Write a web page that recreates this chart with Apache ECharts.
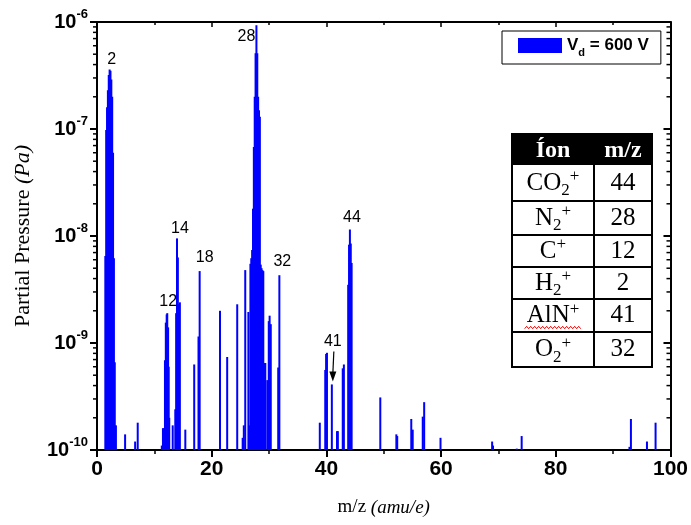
<!DOCTYPE html>
<html><head><meta charset="utf-8">
<script src="https://cdn.jsdelivr.net/npm/echarts@6/dist/echarts.min.js"></script>
<style>html,body{margin:0;padding:0;background:#fff}#c{width:691px;height:525px}</style>
</head><body><div id="c"></div>
<script>
// ---- data ----
const mz = [
  1.45,1.6,1.75,1.9,2.05,2.2,2.35,2.5,2.65,2.8,2.95,3.1,3.3,
  4.9,6.65,7.1,
  11.3,11.5,11.7,11.85,12.0,12.15,12.25,12.4,12.5,12.6,
  13.2,13.65,13.8,13.95,14.1,14.3,14.45,15.4,
  16.95,17.7,17.9,21.45,22.7,24.45,25.4,25.6,25.85,26.4,26.6,
  26.75,26.9,27.05,27.2,27.35,27.5,27.65,27.8,27.95,28.1,28.25,28.4,28.55,28.7,28.85,29.0,
  29.2,29.35,29.7,29.95,30.1,30.3,31.6,31.8,
  38.85,39.8,39.95,40.1,40.95,41.85,42.0,42.85,43.05,
  43.8,43.95,44.1,44.25,44.4,
  49.4,52.2,52.35,54.8,55.05,56.8,57.05,59.9,68.9,69.05,73.2,74.05,
  92.85,93.1,95.9,97.4
];
const pressure = [
  6.5e-9,9.8e-8,1.6e-7,2.3e-7,3.2e-7,3.6e-7,3.5e-7,2.9e-7,2.0e-7,6.0e-8,6.2e-9,6.6e-10,1.7e-10,
  1.4e-10,1.2e-10,1.8e-10,
  1.1e-10,1.6e-10,1.6e-10,6.9e-10,1.55e-9,1.85e-9,1.9e-9,1.4e-9,6.0e-10,2.0e-10,
  1.7e-10,2.4e-10,1.9e-9,9.5e-9,6.3e-9,2.3e-9,2.4e-9,1.55e-10,
  6.3e-10,1.15e-9,4.7e-9,2.0e-9,7.4e-10,2.3e-9,1.3e-10,1.7e-10,4.8e-9,1.95e-9,1.7e-10,
  5.5e-9,6.2e-9,7.4e-9,1.8e-8,6.8e-8,2.0e-7,5.1e-7,9.3e-7,5.1e-7,2.0e-7,1.5e-7,1.3e-7,5.4e-9,5.0e-9,4.8e-9,4.7e-9,
  6.5e-10,6.5e-10,4.5e-10,1.6e-9,1.8e-9,1.5e-9,5.9e-10,4.3e-9,
  1.8e-10,5.6e-10,7.9e-10,8.1e-10,4.1e-10,1.5e-10,1.5e-10,5.8e-10,6.3e-10,
  3.5e-9,8.3e-9,1.15e-8,8.5e-9,5.6e-9,
  3.1e-10,1.4e-10,1.35e-10,1.95e-10,1.55e-10,2.05e-10,2.8e-10,1.3e-10,1.2e-10,1.1e-10,1.03e-10,1.35e-10,
  1.07e-10,1.95e-10,1.2e-10,1.8e-10
];
const xTickValues = [0,20,40,60,80,100];
const yDecades = [-10,-9,-8,-7,-6];
const seriesName = 'V_d = 600 V';
// peak annotations
const annText = ['2','12','14','18','28','32','41','44'];
const annMz   = [2.2,12.25,13.95,17.9,27.8,31.8,40.95,44.1];
const annP    = [3.6e-7,1.9e-9,9.5e-9,4.7e-9,9.3e-7,4.3e-9,4.1e-10,1.15e-8];
// inset table
const tableHeader = ['Íon','m/z'];
const tableIon = [
  [['CO','n'],['2','sub'],['+','sup']],
  [['N','n'],['2','sub'],['+','sup']],
  [['C','n'],['+','sup']],
  [['H','n'],['2','sub'],['+','sup']],
  [['AlN','n'],['+','sup']],
  [['O','n'],['2','sub'],['+','sup']]
];
const tableMz = ['44','28','12','2','41','32'];

// ---- layout (not data) ----
const annDx = [2,1,3,5,-10,3,1,2];
const annDy = [-10,-12,-10,-13,11,-14,-43,-12];
const SANS = '"Liberation Sans", Arial, sans-serif';
const SERIF = '"Liberation Serif", "Times New Roman", serif';
const Y_MIN = 1e-10, Y_MAX = 1e-6;
const BLUE = '#0000ff';

const chart = echarts.init(document.getElementById('c'));
const data = mz.map((m, i) => [m, pressure[i]]);
const axisLineStyle = {color:'#000', width:2};

chart.setOption({
  animation:false,
  grid:{left:97, right:16, top:22, bottom:75},
  legend:{
    left:502, top:31, padding:[6,12,6,16], itemWidth:44, itemHeight:15,
    borderColor:'#000', borderWidth:1, borderRadius:0,
    data:[{name:seriesName, icon:'rect'}],
    formatter: () => '{v|V}{d|d}{v| = 600 V}',
    textStyle:{rich:{
      v:{fontFamily:SANS, fontWeight:'bold', fontSize:17, color:'#000'},
      d:{fontFamily:SANS, fontWeight:'bold', fontSize:11, color:'#000', padding:[14,0,0,0]}
    }}
  },
  xAxis:[{
    type:'value', min:0, max:100, interval:20, position:'bottom',
    name:'{n|m/z }{i|(amu/e)}', nameLocation:'middle', nameGap:48,
    nameTextStyle:{rich:{
      n:{fontFamily:SERIF, fontSize:19, color:'#000'},
      i:{fontFamily:SERIF, fontSize:19, fontStyle:'italic', color:'#000'}
    }},
    axisLine:{show:true, onZero:false, lineStyle:axisLineStyle},
    axisTick:{show:true, inside:false, length:7, lineStyle:{color:'#000', width:2}},
    minorTick:{show:true, splitNumber:2, length:4, lineStyle:{color:'#000', width:1.5}},
    axisLabel:{fontFamily:SANS, fontWeight:'bold', fontSize:21, color:'#000', margin:9,
      customValues: xTickValues},
    splitLine:{show:false}
  },{
    type:'value', min:0, max:100, interval:20, position:'top',
    axisLine:{show:true, onZero:false, lineStyle:axisLineStyle},
    axisTick:{show:true, inside:true, length:5, lineStyle:{color:'#000', width:1.5}},
    minorTick:{show:true, splitNumber:2, length:3, lineStyle:{color:'#000', width:1.5}},
    axisLabel:{show:false}, splitLine:{show:false}
  }],
  yAxis:[{
    type:'log', logBase:10, min:Y_MIN, max:Y_MAX, position:'left',
    name:'{n|Partial Pressure }{i|(Pa)}', nameLocation:'middle', nameGap:63,
    nameTextStyle:{rich:{
      n:{fontFamily:SERIF, fontSize:22, color:'#000'},
      i:{fontFamily:SERIF, fontSize:22, fontStyle:'italic', color:'#000'}
    }},
    axisLine:{show:true, onZero:false, lineStyle:axisLineStyle},
    axisTick:{show:true, inside:false, length:7, lineStyle:{color:'#000', width:2}},
    axisLabel:{margin:9, formatter: v => '{b|10}{s|' + Math.round(Math.log10(v)) + '}',
      rich:{
        b:{fontFamily:SANS, fontWeight:'bold', fontSize:20, color:'#000'},
        s:{fontFamily:SANS, fontWeight:'bold', fontSize:13, color:'#000', padding:[0,0,16,0]}
      }},
    splitLine:{show:false}
  },{
    type:'log', logBase:10, min:Y_MIN, max:Y_MAX, position:'right',
    axisLine:{show:true, onZero:false, lineStyle:axisLineStyle},
    axisTick:{show:true, inside:true, length:7, lineStyle:{color:'#000', width:2}},
    axisLabel:{show:false}, splitLine:{show:false}
  }],
  series:[{
    type:'custom', name:seriesName, xAxisIndex:0, yAxisIndex:0, clip:true,
    itemStyle:{color:BLUE},
    encode:{x:0, y:1},
    data:data,
    renderItem:(params, api) => {
      const x = api.value(0), v = api.value(1);
      const top = api.coord([x, v]);
      const base = api.coord([x, Y_MIN]);
      return {type:'rect', shape:{x:top[0]-1, y:top[1], width:2, height:base[1]-top[1]},
        style:{fill:BLUE}};
    }
  }]
});

// ---- decorations computed through the chart's scales ----
const g = [];
const px = v => chart.convertToPixel({xAxisIndex:0}, v);
const py = v => chart.convertToPixel({yAxisIndex:0}, v);
const xL = px(0), xR = px(100);
// log minor ticks (2..9 x 10^n)
yDecades.slice(0, -1).forEach(e => {
  for (let k = 2; k <= 9; k++) {
    const y = py(k * Math.pow(10, e));
    g.push({type:'line', shape:{x1:xL-4, y1:y, x2:xL, y2:y}, style:{stroke:'#000', lineWidth:1.5}, silent:true});
    g.push({type:'line', shape:{x1:xR-4, y1:y, x2:xR, y2:y}, style:{stroke:'#000', lineWidth:1.5}, silent:true});
  }
});
// peak labels
annText.forEach((t, i) => {
  const x = px(annMz[i]) + annDx[i], y = py(annP[i]) + annDy[i];
  g.push({type:'text', x:x, y:y, style:{text:t, font:'16px ' + SANS, fill:'#000', align:'center', verticalAlign:'middle'}, z:10});
  if (t === '41') {
    const tipX = px(annMz[i]) + 1, tipY = py(annP[i]) - 3;
    g.push({type:'line', shape:{x1:x+1, y1:y+10, x2:tipX, y2:tipY-8}, style:{stroke:'#000', lineWidth:1.2}, z:10});
    g.push({type:'polygon', shape:{points:[[tipX-3.5, tipY-10],[tipX+3.5, tipY-10],[tipX, tipY]]}, style:{fill:'#000'}, z:10});
  }
});
// inset table
const cv = document.createElement('canvas').getContext('2d');
const measure = (t, f) => { cv.font = f; return cv.measureText(t).width; };
const T = {x0:512, x1:652, xm:594, top:134, head:165, rows:[201,235,267,299,332,367]};
const partStyle = {n:{size:25, dy:0}, sub:{size:17, dy:8}, sup:{size:17, dy:-6}};
g.push({type:'rect', shape:{x:T.x0, y:T.top, width:T.x1-T.x0, height:T.head-T.top}, style:{fill:'#000'}, z:20});
g.push({type:'rect', shape:{x:T.x0, y:T.top, width:T.x1-T.x0, height:T.rows[5]-T.top}, style:{fill:'none', stroke:'#000', lineWidth:2}, z:21});
g.push({type:'rect', shape:{x:T.x0+1, y:T.head, width:T.x1-T.x0-2, height:T.rows[5]-T.head-1}, style:{fill:'#fff'}, z:19});
T.rows.slice(0,5).forEach(y => g.push({type:'line', shape:{x1:T.x0, y1:y, x2:T.x1, y2:y}, style:{stroke:'#000', lineWidth:2}, z:21}));
g.push({type:'line', shape:{x1:T.xm, y1:T.head, x2:T.xm, y2:T.rows[5]}, style:{stroke:'#000', lineWidth:2}, z:21});
const cIon = (T.x0 + T.xm) / 2, cMz = (T.xm + T.x1) / 2;
g.push({type:'text', x:cIon, y:151, style:{text:tableHeader[0], font:'bold 24px ' + SERIF, fill:'#fff', align:'center', verticalAlign:'middle'}, z:22});
g.push({type:'text', x:cMz, y:151, style:{text:tableHeader[1], font:'bold 24px ' + SERIF, fill:'#fff', align:'center', verticalAlign:'middle'}, z:22});
tableIon.forEach((parts, r) => {
  const yTop = r === 0 ? T.head : T.rows[r-1];
  const yc = (yTop + T.rows[r]) / 2;
  const widths = parts.map(p => measure(p[0], partStyle[p[1]].size + 'px ' + SERIF));
  let x = cIon - widths.reduce((a, b) => a + b, 0) / 2;
  parts.forEach((p, j) => {
    const s = partStyle[p[1]];
    g.push({type:'text', x:x, y:yc + s.dy, style:{text:p[0], font:s.size + 'px ' + SERIF, fill:'#000', align:'left', verticalAlign:'middle'}, z:22});
    x += widths[j];
  });
  if (parts[0][0] === 'AlN') {
    const w = widths[0] + widths[1], x0 = cIon - w / 2 - 2, yw = yc + 12;
    const pts = [];
    for (let k = 0; k <= Math.round((w + 4) / 2); k++) pts.push([x0 + k * 2, yw + (k % 2 ? -1.2 : 1.2)]);
    g.push({type:'polyline', shape:{points:pts}, style:{stroke:'#e00', lineWidth:1, fill:null}, z:22});
  }
  g.push({type:'text', x:cMz, y:yc, style:{text:tableMz[r], font:'25px ' + SERIF, fill:'#000', align:'center', verticalAlign:'middle'}, z:22});
});
chart.setOption({graphic:g});
</script>
</body></html>
